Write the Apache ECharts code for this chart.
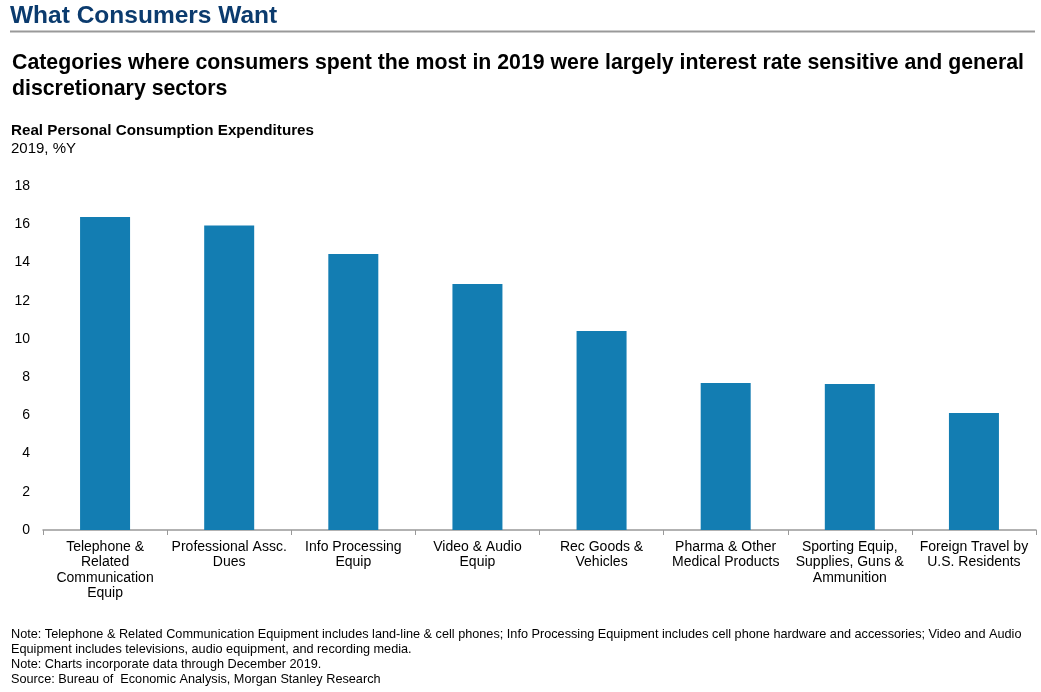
<!DOCTYPE html>
<html>
<head>
<meta charset="utf-8">
<script src="https://cdn.jsdelivr.net/npm/echarts@6/dist/echarts.min.js"></script>
<style>
html,body{margin:0;padding:0;background:#fff;}
#c{width:1041px;height:692px;}
</style>
</head>
<body>
<div id="c"></div>
<script>
var categories = [
  'Telephone &\nRelated\nCommunication\nEquip',
  'Professional Assc.\nDues',
  'Info Processing\nEquip',
  'Video & Audio\nEquip',
  'Rec Goods &\nVehicles',
  'Pharma & Other\nMedical Products',
  'Sporting Equip,\nSupplies, Guns &\nAmmunition',
  'Foreign Travel by\nU.S. Residents'
];
var values = [16.38, 15.93, 14.44, 12.87, 10.41, 7.69, 7.64, 6.12];
var yTicks = [0, 2, 4, 6, 8, 10, 12, 14, 16, 18];

var chart = echarts.init(document.getElementById('c'));
var FF = 'Arial, "Liberation Sans", sans-serif';
chart.setOption({
  animation: false,
  backgroundColor: '#fff',
  title: [
    {text: 'What Consumers Want', left: 10, top: 4, padding: 0,
     textStyle: {fontFamily: FF, fontSize: 24.5, fontWeight: 'bold', color: '#0b3b6e', lineHeight: 24}},
    {text: 'Categories where consumers spent the most in 2019 were largely interest rate sensitive and general\ndiscretionary sectors', left: 12, top: 50, padding: 0,
     textStyle: {fontFamily: FF, fontSize: 21.3, fontWeight: 'bold', color: '#000', lineHeight: 26}},
    {text: 'Real Personal Consumption Expenditures', left: 11, top: 122, padding: 0,
     textStyle: {fontFamily: FF, fontSize: 15.2, fontWeight: 'bold', color: '#000', lineHeight: 17}},
    {text: '2019, %Y', left: 11, top: 140, padding: 0,
     textStyle: {fontFamily: FF, fontSize: 15, fontWeight: 'normal', color: '#000', lineHeight: 17}},
    {text: 'Note: Telephone & Related Communication Equipment includes land-line & cell phones; Info Processing Equipment includes cell phone hardware and accessories; Video and Audio\nEquipment includes televisions, audio equipment, and recording media.\nNote: Charts incorporate data through December 2019.\nSource: Bureau of  Economic Analysis, Morgan Stanley Research', left: 11, top: 627.5, padding: 0,
     textStyle: {fontFamily: FF, fontSize: 12.7, fontWeight: 'normal', color: '#000', lineHeight: 14.8}}
  ],
  graphic: [
    {type: 'line', shape: {x1: 10, y1: 31.5, x2: 1035, y2: 31.5},
     style: {stroke: '#999', lineWidth: 2}}
  ],
  grid: {left: 43, right: 5, top: 186, bottom: 162, containLabel: false},
  xAxis: {
    type: 'category',
    data: categories,
    axisLine: {lineStyle: {color: '#999', width: 1.5}},
    axisTick: {show: true, length: 5, lineStyle: {color: '#999'}, alignWithLabel: false},
    axisLabel: {interval: 0, fontFamily: FF, fontSize: 14, color: '#000', lineHeight: 15.5, margin: 9}
  },
  yAxis: {
    type: 'value',
    min: 0, max: 18, interval: 2,
    axisLine: {show: false},
    axisTick: {show: false},
    splitLine: {show: false},
    axisLabel: {fontFamily: FF, fontSize: 14, color: '#000', margin: 13,
      formatter: function(v){ return yTicks.indexOf(v) >= 0 ? String(v) : ''; }}
  },
  series: [{
    type: 'bar',
    data: values,
    barWidth: 50,
    itemStyle: {color: '#137db2'}
  }]
});
</script>
</body>
</html>
